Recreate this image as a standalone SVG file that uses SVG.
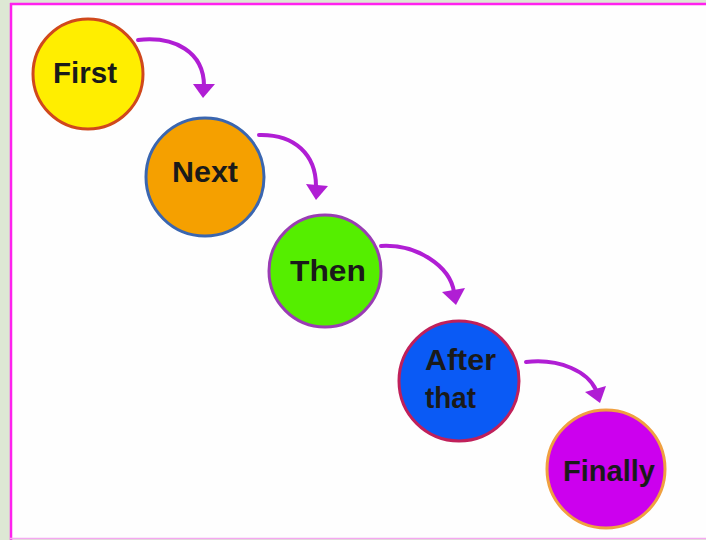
<svg xmlns="http://www.w3.org/2000/svg" width="706" height="540" viewBox="0 0 706 540">
<defs>
<style>
.lbl{font-family:"Liberation Sans",Arial,sans-serif;font-weight:bold;font-size:29px;fill:#1a1a1a;}
.arrow{fill:none;stroke:#b01ed4;stroke-width:4;stroke-linecap:round;}
.head{fill:#b01ed4;}
.c{stroke-width:3;}
</style>
</defs>
<rect x="0" y="0" width="706" height="540" fill="#dde8d4"/>
<rect x="10" y="3" width="696" height="536" fill="#fefefe"/>
<line x1="11" y1="3" x2="11" y2="540" stroke="#ff22ee" stroke-width="2.5"/>
<line x1="10" y1="4" x2="706" y2="4" stroke="#ff22ee" stroke-width="2.5"/>
<line x1="10" y1="538.5" x2="706" y2="538.5" stroke="#f4a8f0" stroke-width="1.5"/>

<g id="connectors">
<path class="arrow" d="M138,40 C175,36 204,52 204,86"/>
<polygon class="head" points="193,84 215,84 203,98"/>
<path class="arrow" d="M259,135 C295,134 316,155 316,186"/>
<polygon class="head" points="306,184 328,186 316,200"/>
<path class="arrow" d="M381,246 C417,244 450,266 454,292"/>
<polygon class="head" points="442,292 465,288 456,305"/>
<path class="arrow" d="M526,362 C560,358 588,372 596,390"/>
<polygon class="head" points="585,392 606,386 600,403"/>
</g>

<g id="first">
<circle class="c" cx="88" cy="74" r="55" fill="#ffee00" stroke="#d0481c"/>
<text class="lbl" x="85" y="83" text-anchor="middle" textLength="64" lengthAdjust="spacingAndGlyphs">First</text>
</g>
<g id="next">
<circle class="c" cx="205" cy="177" r="59" fill="#f5a000" stroke="#3a66b0"/>
<text class="lbl" x="205" y="182" text-anchor="middle" textLength="66" lengthAdjust="spacingAndGlyphs">Next</text>
</g>
<g id="then">
<circle class="c" cx="325" cy="271" r="56" fill="#55ee00" stroke="#9a3cb4"/>
<text class="lbl" x="328" y="281" text-anchor="middle" textLength="76" lengthAdjust="spacingAndGlyphs">Then</text>
</g>
<g id="after-that">
<circle class="c" cx="459" cy="381" r="60" fill="#0a5af5" stroke="#c0205a"/>
<text class="lbl" x="425" y="370" textLength="71" lengthAdjust="spacingAndGlyphs">After</text>
<text class="lbl" x="425" y="408" textLength="51" lengthAdjust="spacingAndGlyphs">that</text>
</g>
<g id="finally">
<circle class="c" cx="606" cy="469" r="59" fill="#cc00ee" stroke="#f0a040"/>
<text class="lbl" x="609" y="481" text-anchor="middle" textLength="92" lengthAdjust="spacingAndGlyphs">Finally</text>
</g>
</svg>
